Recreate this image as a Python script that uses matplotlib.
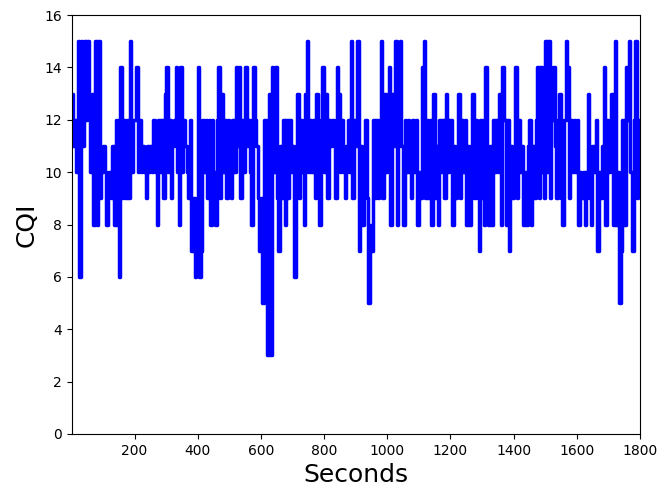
import matplotlib
matplotlib.use("Agg")
import matplotlib.pyplot as plt

# CQI, one sample every 5 s (one row = 100 s)
seconds = list(range(0, 1801, 5))
cqi = [
    13, 11, 12, 10, 15, 6, 15, 11, 15, 12, 15, 12, 10, 13, 8, 15, 8, 15, 9, 10,         # 0
    11, 10, 8, 10, 10, 9, 11, 8, 12, 8, 6, 14, 9, 12, 9, 12, 9, 15, 10, 12,             # 100
    12, 14, 10, 12, 10, 11, 10, 9, 11, 10, 11, 10, 12, 10, 8, 12, 10, 12, 9, 13,        # 200
    14, 10, 12, 9, 11, 12, 14, 10, 8, 14, 10, 12, 11, 10, 9, 12, 7, 9, 6, 8,            # 300
    14, 6, 7, 12, 10, 12, 9, 12, 8, 12, 10, 8, 12, 14, 9, 13, 10, 12, 9, 12,            # 400
    10, 9, 12, 10, 14, 11, 14, 9, 12, 10, 14, 11, 12, 10, 8, 14, 12, 11, 9, 7,          # 500
    9, 5, 12, 11, 3, 13, 3, 14, 10, 14, 9, 7, 11, 9, 12, 8, 12, 9, 12, 10,              # 600
    11, 6, 9, 13, 9, 12, 10, 8, 13, 15, 10, 12, 10, 12, 9, 13, 10, 8, 12, 14,           # 700
    10, 13, 9, 12, 11, 12, 11, 9, 14, 13, 10, 12, 10, 9, 11, 12, 10, 15, 9, 12,         # 800
    11, 15, 7, 11, 8, 10, 12, 9, 5, 8, 7, 12, 9, 12, 9, 11, 15, 9, 13, 10,              # 900
    12, 14, 8, 13, 11, 15, 8, 12, 15, 11, 8, 12, 10, 12, 10, 9, 12, 10, 12, 8,          # 1000
    10, 9, 14, 15, 9, 12, 9, 12, 8, 13, 9, 11, 8, 12, 10, 12, 9, 13, 10, 12,            # 1100
    12, 8, 11, 9, 10, 13, 9, 12, 10, 12, 8, 11, 8, 10, 13, 9, 12, 10, 7, 12,            # 1200
    9, 8, 14, 11, 8, 11, 8, 12, 10, 12, 10, 13, 8, 14, 12, 8, 12, 7, 11, 9,             # 1300
    11, 14, 9, 12, 10, 11, 8, 10, 8, 11, 12, 8, 11, 9, 12, 14, 9, 14, 10, 9,            # 1400
    15, 10, 15, 9, 12, 14, 11, 9, 12, 13, 9, 8, 12, 15, 14, 9, 12, 10, 12, 10,          # 1500
    12, 8, 10, 9, 10, 8, 10, 13, 9, 8, 11, 10, 12, 7, 10, 9, 11, 14, 8, 12,             # 1600
    10, 12, 13, 8, 15, 8, 10, 5, 7, 12, 8, 14, 12, 15, 10, 7, 12, 15, 9, 12,            # 1700
    10,
]

fig = plt.figure(figsize=(6.7, 4.87), dpi=100)
ax = fig.add_axes([0.107, 0.109, 0.848, 0.860])
ax.plot(seconds, cqi, color="blue", linewidth=2.5, drawstyle="steps-post")

ax.set_xlim(1, 1800)
ax.set_ylim(0, 16)
ax.set_xticks(range(200, 1801, 200))
ax.set_yticks(range(0, 17, 2))
ax.tick_params(labelsize=10)
ax.set_xlabel("Seconds", fontsize=18)
ax.set_ylabel("CQI", fontsize=18)

fig.savefig("out.png", dpi=100)
